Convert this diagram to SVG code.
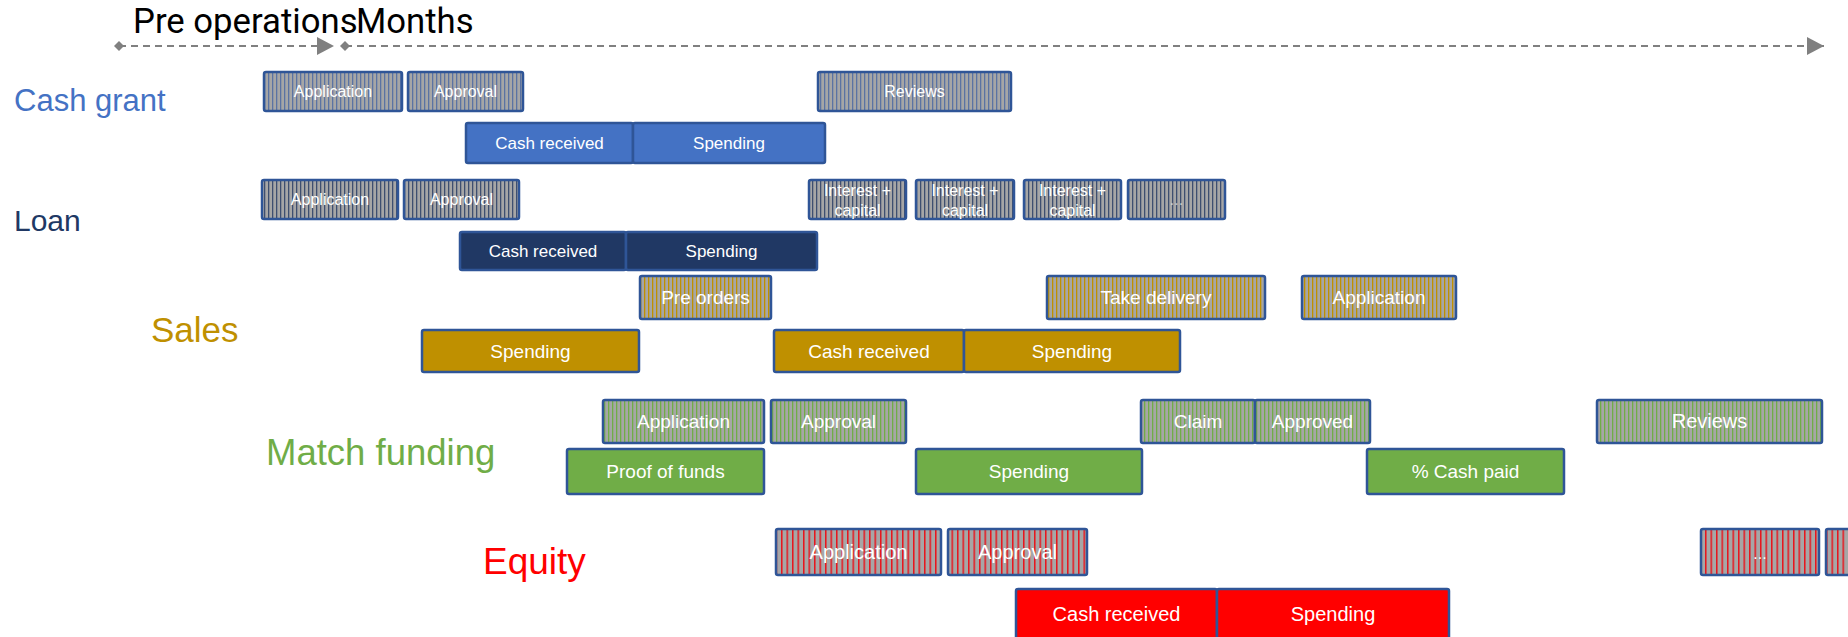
<svg xmlns="http://www.w3.org/2000/svg" width="1848" height="637" viewBox="0 0 1848 637">
<style>
  .bx { stroke: #2F5597; stroke-width: 2.5; }
  .t { font-family: "Liberation Sans", Arial, sans-serif; fill: #FFFFFF; text-anchor: middle; }
  .s16 { font-size: 16px; }
  .s17 { font-size: 17px; }
  .s19 { font-size: 19px; }
  .s20 { font-size: 20px; }
  .lbl { font-family: "Liberation Sans", Arial, sans-serif; }
  .hdr { font-family: Roboto, "Liberation Sans", sans-serif; font-size: 34.7px; fill: #000000; }
  .tl { stroke: #808080; stroke-width: 2; stroke-dasharray: 7 5; fill: none; }
</style>
<defs>
  <pattern id="pCG" width="4" height="10" patternUnits="userSpaceOnUse"><rect width="4" height="10" fill="#A6A6A6"/><rect width="1.3" height="10" fill="#5B73A3"/></pattern>
  <pattern id="pLN" width="4" height="10" patternUnits="userSpaceOnUse"><rect width="4" height="10" fill="#A6A6A6"/><rect width="1.3" height="10" fill="#3E4F70"/></pattern>
  <pattern id="pSL" width="4" height="10" patternUnits="userSpaceOnUse"><rect width="4" height="10" fill="#A6A6A6"/><rect width="1.3" height="10" fill="#BF9000"/></pattern>
  <pattern id="pMF" width="4" height="10" patternUnits="userSpaceOnUse"><rect width="4" height="10" fill="#A6A6A6"/><rect width="1.3" height="10" fill="#70AD47"/></pattern>
  <pattern id="pEQ" width="5.5" height="10" patternUnits="userSpaceOnUse"><rect width="5.5" height="10" fill="#A6A6A6"/><rect width="1.5" height="10" fill="#E8141C"/></pattern>
  <marker id="arr" markerUnits="userSpaceOnUse" markerWidth="18" markerHeight="18" refX="17" refY="9" orient="auto">
    <path d="M0,0 L17,9 L0,18 Z" fill="#808080"/>
  </marker>
  <marker id="dia" markerUnits="userSpaceOnUse" markerWidth="10" markerHeight="10" refX="5" refY="5" orient="auto">
    <path d="M5,0 L10,5 L5,10 L0,5 Z" fill="#808080"/>
  </marker>
</defs>
<rect width="1848" height="637" fill="#FFFFFF"/>

<g id="header">
  <text class="hdr" x="133" y="33">Pre operations</text>
  <text class="hdr" x="356" y="33">Months</text>
</g>

<g id="connectors">
  <line class="tl" x1="119" y1="46" x2="334" y2="46" marker-start="url(#dia)" marker-end="url(#arr)"/>
  <line class="tl" x1="345" y1="46" x2="1824" y2="46" marker-start="url(#dia)" marker-end="url(#arr)"/>
</g>

<g id="labels">
  <text class="lbl" x="14" y="111" font-size="31" fill="#4472C4">Cash grant</text>
  <text class="lbl" x="14" y="231" font-size="30" fill="#203864">Loan</text>
  <text class="lbl" x="151" y="342" font-size="35" fill="#BF9000">Sales</text>
  <text class="lbl" x="266" y="465" font-size="36.5" fill="#70AD47">Match funding</text>
  <text class="lbl" x="483" y="574" font-size="37" fill="#FF0000">Equity</text>
</g>

<!-- Cash grant -->
<g id="cg-app"><rect class="bx" x="264" y="72" width="138" height="39" rx="2" fill="url(#pCG)"/><text class="t s16" x="333" y="97">Application</text></g>
<g id="cg-apr"><rect class="bx" x="408" y="72" width="115" height="39" rx="2" fill="url(#pCG)"/><text class="t s16" x="465.5" y="97">Approval</text></g>
<g id="cg-rev"><rect class="bx" x="818" y="72" width="193" height="39" rx="2" fill="url(#pCG)"/><text class="t s16" x="914.5" y="97">Reviews</text></g>
<g id="cg-cash"><rect class="bx" x="466" y="123" width="167" height="40" rx="2" fill="#4472C4"/><text class="t s17" x="549.5" y="149">Cash received</text></g>
<g id="cg-spend"><rect class="bx" x="633" y="123" width="192" height="40" rx="2" fill="#4472C4"/><text class="t s17" x="729" y="149">Spending</text></g>

<!-- Loan -->
<g id="ln-app"><rect class="bx" x="262" y="180" width="136" height="39" rx="2" fill="url(#pLN)"/><text class="t s16" x="330" y="205">Application</text></g>
<g id="ln-apr"><rect class="bx" x="404" y="180" width="115" height="39" rx="2" fill="url(#pLN)"/><text class="t s16" x="461.5" y="205">Approval</text></g>
<g id="ln-ic1"><rect class="bx" x="809" y="180" width="97" height="39" rx="2" fill="url(#pLN)"/><text class="t s16" x="857.5" y="196">Interest +</text><text class="t s16" x="857.5" y="216">capital</text></g>
<g id="ln-ic2"><rect class="bx" x="916" y="180" width="98" height="39" rx="2" fill="url(#pLN)"/><text class="t s16" x="965" y="196">Interest +</text><text class="t s16" x="965" y="216">capital</text></g>
<g id="ln-ic3"><rect class="bx" x="1024" y="180" width="97" height="39" rx="2" fill="url(#pLN)"/><text class="t s16" x="1072.5" y="196">Interest +</text><text class="t s16" x="1072.5" y="216">capital</text></g>
<g id="ln-more"><rect class="bx" x="1128" y="180" width="97" height="39" rx="2" fill="url(#pLN)"/><text class="t s16" x="1176.5" y="205" fill-opacity="0.6">...</text></g>
<g id="ln-cash"><rect class="bx" x="460" y="232" width="166" height="38" rx="2" fill="#203864"/><text class="t s17" x="543" y="257">Cash received</text></g>
<g id="ln-spend"><rect class="bx" x="626" y="232" width="191" height="38" rx="2" fill="#203864"/><text class="t s17" x="721.5" y="257">Spending</text></g>

<!-- Sales -->
<g id="sl-pre"><rect class="bx" x="640" y="276" width="131" height="43" rx="2" fill="url(#pSL)"/><text class="t s19" x="705.5" y="304">Pre orders</text></g>
<g id="sl-take"><rect class="bx" x="1047" y="276" width="218" height="43" rx="2" fill="url(#pSL)"/><text class="t s19" x="1156" y="304">Take delivery</text></g>
<g id="sl-app"><rect class="bx" x="1302" y="276" width="154" height="43" rx="2" fill="url(#pSL)"/><text class="t s19" x="1379" y="304">Application</text></g>
<g id="sl-spend1"><rect class="bx" x="422" y="330" width="217" height="42" rx="2" fill="#BF9000"/><text class="t s19" x="530.5" y="358">Spending</text></g>
<g id="sl-cash"><rect class="bx" x="774" y="330" width="190" height="42" rx="2" fill="#BF9000"/><text class="t s19" x="869" y="358">Cash received</text></g>
<g id="sl-spend2"><rect class="bx" x="964" y="330" width="216" height="42" rx="2" fill="#BF9000"/><text class="t s19" x="1072" y="358">Spending</text></g>

<!-- Match funding -->
<g id="mf-app"><rect class="bx" x="603" y="400" width="161" height="43" rx="2" fill="url(#pMF)"/><text class="t s19" x="683.5" y="428">Application</text></g>
<g id="mf-apr"><rect class="bx" x="771" y="400" width="135" height="43" rx="2" fill="url(#pMF)"/><text class="t s19" x="838.5" y="428">Approval</text></g>
<g id="mf-claim"><rect class="bx" x="1141" y="400" width="114" height="43" rx="2" fill="url(#pMF)"/><text class="t s19" x="1198" y="428">Claim</text></g>
<g id="mf-aprd"><rect class="bx" x="1255" y="400" width="115" height="43" rx="2" fill="url(#pMF)"/><text class="t s19" x="1312.5" y="428">Approved</text></g>
<g id="mf-rev"><rect class="bx" x="1597" y="400" width="225" height="43" rx="2" fill="url(#pMF)"/><text class="t s20" x="1709.5" y="428">Reviews</text></g>
<g id="mf-proof"><rect class="bx" x="567" y="449" width="197" height="45" rx="2" fill="#70AD47"/><text class="t s19" x="665.5" y="478">Proof of funds</text></g>
<g id="mf-spend"><rect class="bx" x="916" y="449" width="226" height="45" rx="2" fill="#70AD47"/><text class="t s19" x="1029" y="478">Spending</text></g>
<g id="mf-pct"><rect class="bx" x="1367" y="449" width="197" height="45" rx="2" fill="#70AD47"/><text class="t s19" x="1465.5" y="478">% Cash paid</text></g>

<!-- Equity -->
<g id="eq-app"><rect class="bx" x="776" y="529" width="165" height="46" rx="2" fill="url(#pEQ)"/><text class="t s20" x="858.5" y="559">Application</text></g>
<g id="eq-apr"><rect class="bx" x="948" y="529" width="139" height="46" rx="2" fill="url(#pEQ)"/><text class="t s20" x="1017.5" y="559">Approval</text></g>
<g id="eq-more"><rect class="bx" x="1701" y="529" width="118" height="46" rx="2" fill="url(#pEQ)"/><text class="t s16" x="1760" y="559">...</text></g>
<g id="eq-next"><rect class="bx" x="1826" y="529" width="40" height="46" rx="2" fill="url(#pEQ)"/></g>
<g id="eq-cash"><rect class="bx" x="1016" y="589" width="201" height="52" rx="2" fill="#FF0000"/><text class="t s20" x="1116.5" y="621">Cash received</text></g>
<g id="eq-spend"><rect class="bx" x="1217" y="589" width="232" height="52" rx="2" fill="#FF0000"/><text class="t s20" x="1333" y="621">Spending</text></g>
</svg>
